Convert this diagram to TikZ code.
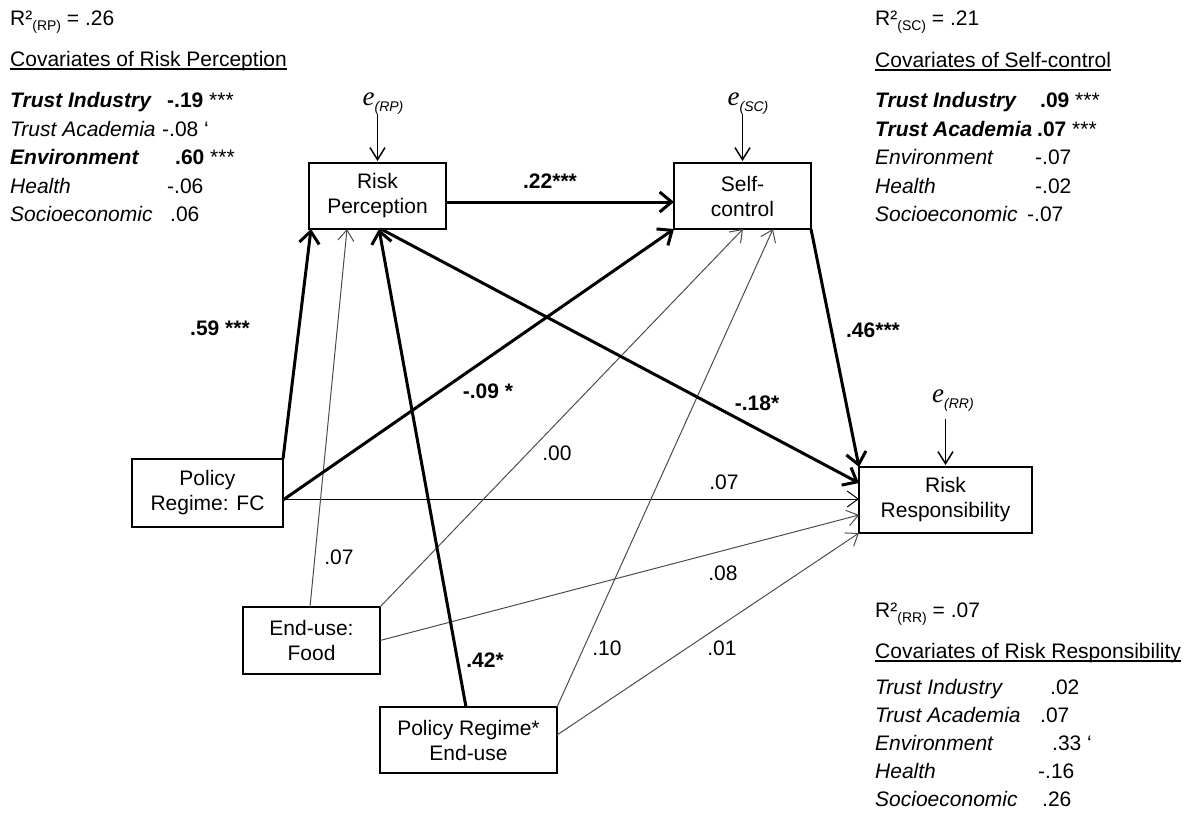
\documentclass[tikz,border=0pt]{standalone}
\usepackage{fontspec}
\setmainfont{Liberation Sans}
\newfontfamily\eserif{Liberation Serif}
\usetikzlibrary{arrows.meta,calc}
\newcommand\msz{\fontsize{21}{25}\selectfont}
\newcommand\ssz{\fontsize{14}{14}\selectfont}
\newcommand\rsq[1]{R²\raisebox{-5pt}{\ssz(#1)} = }
\newcommand\erl[1]{{\eserif\itshape\fontsize{27}{27}\selectfont e}\raisebox{-6pt}{\ssz\itshape(#1)}}
\begin{document}
\begin{tikzpicture}[x=1pt,y=-1pt,
  box/.style={draw, line width=2.4pt, inner sep=0pt, outer sep=0pt, align=center, font=\msz},
  thickarr/.style={line width=3pt, -{Straight Barb[length=12pt,width=20pt]}},
  thinarr/.style={line width=1pt, black!70, -{Straight Barb[length=11pt,width=16pt]}},
  hthinarr/.style={line width=1pt, black, -{Straight Barb[length=11pt,width=16pt]}},
  earr/.style={line width=1.5pt, -{Straight Barb[length=12pt,width=15pt]}},
  lbl/.style={font=\msz, inner sep=0pt},
  blbl/.style={font=\msz\bfseries, inner sep=0pt},
  txt/.style={font=\msz, inner sep=0pt, anchor=base west},
  elbl/.style={inner sep=0pt, anchor=base}
]
\useasboundingbox (0,0) rectangle (1195,825);

% boxes
\node[box, minimum width=137pt, minimum height=66pt] (RP) at (377.5,196) {Risk\\Perception};
\node[box, minimum width=137pt, minimum height=66pt] (SC) at (742.5,196) {Self-\\control};
\node[box, minimum width=173pt, minimum height=66pt] (RR) at (945.5,500) {Risk\\Responsibility};
\node[box, minimum width=151pt, minimum height=68pt] (FC) at (207.5,493) {Policy\\Regime: FC};
\node[box, minimum width=137pt, minimum height=67pt] (Food) at (311.5,640.5) {End-use:\\Food};
\node[box, minimum width=177pt, minimum height=66pt] (PRE) at (468.5,740) {Policy Regime*\\End-use};

% error terms
\node[elbl] (eRP) at (383,105) {\erl{RP}};
\node[elbl] (eSC) at (748,105) {\erl{SC}};
\node[elbl] (eRR) at (953,402) {\erl{RR}};
\draw[earr, shorten >=2pt] (eRP.south -| RP.north) -- (RP.north);
\draw[earr, shorten >=2pt] (eSC.south -| SC.north) -- (SC.north);
\draw[earr, shorten >=2pt] ($(eRR.south -| RR.north)+(0,8)$) -- (RR.north);

% thin paths
\draw[hthinarr] ($(FC.east)+(0,6)$) -- ($(RR.west)+(0,-1)$);
\draw[thinarr] ($(Food.north)+(-1.5,0)$) -- ($(RP.south)+(-30.5,0)$);
\draw[thinarr] (Food.north east) -- ($(SC.south)+(0.5,0)$);
\draw[thinarr] (Food.east) -- ($(RR.west)+(0,15)$);
\draw[thinarr] (PRE.north east) -- ($(SC.south)+(30.5,0)$);
\draw[thinarr] ($(PRE.east)+(0,-5)$) -- (RR.south west);

% thick paths
\draw[thickarr] (FC.north east) -- ($(RP.south west)+(2,0)$);
\draw[thickarr] ($(FC.east)+(0,7)$) -- (SC.south west);
\draw[thickarr] ($(PRE.north)+(-2.5,0)$) -- ($(RP.south)+(1.5,0)$);
\draw[thickarr] ($(RP.south)+(3.5,0)$) -- ($(RR.west)+(0,-17)$);
\draw[thickarr] ($(RP.east)+(0,6)$) -- ($(SC.west)+(0,6)$);
\draw[thickarr] (SC.south east) -- (RR.north west);

% path coefficients
\node[blbl] (c1) at (550,181) {.22***};
\node[blbl] (c2) at (220,328) {.59 ***};
\node[blbl] (c3) at (488,391) {-.09 *};
\node[blbl] (c4) at (873,330) {.46***};
\node[blbl] (c5) at (757,403) {-.18*};
\node[lbl] (c6) at (724,482) {.07};
\node[lbl] (c7) at (557,453) {.00};
\node[lbl] (c8) at (339,557) {.07};
\node[lbl] (c9) at (723,573) {.08};
\node[blbl] (c10) at (485,660) {.42*};
\node[lbl] (c11) at (607,648) {.10};
\node[lbl] (c12) at (722,648) {.01};

% covariates of risk perception
\node[txt] (rpR) at (10,25) {\rsq{RP}.26};
\node[txt] (rpH) at (10,66) {Covariates of Risk Perception};
\draw[line width=1.2pt] ($(rpH.base west)+(0,3)$) -- ($(rpH.base east)+(0,3)$);
\node[txt] (rpL1) at (10,107) {\bfseries\itshape Trust Industry};
\node[txt] (rpV1) at (167,107) {\bfseries -.19 \mdseries***};
\node[txt] (rpL2) at (10,136) {\itshape Trust Academia};
\node[txt] (rpV2) at (162,136) {-.08 ‘};
\node[txt] (rpL3) at (10,164) {\bfseries\itshape Environment};
\node[txt] (rpV3) at (175,164) {\bfseries .60 \mdseries***};
\node[txt] (rpL4) at (10,193) {\itshape Health};
\node[txt] (rpV4) at (167,193) {-.06};
\node[txt] (rpL5) at (10,221) {\itshape Socioeconomic};
\node[txt] (rpV5) at (170,221) {.06};

% covariates of self-control
\node[txt] (scR) at (875,25) {\rsq{SC}.21};
\node[txt] (scH) at (875,67) {Covariates of Self-control};
\draw[line width=1.2pt] ($(scH.base west)+(0,3)$) -- ($(scH.base east)+(0,3)$);
\node[txt] (scL1) at (875,107) {\bfseries\itshape Trust Industry};
\node[txt] (scV1) at (1040,107) {\bfseries .09 \mdseries***};
\node[txt] (scL2) at (875,136) {\bfseries\itshape Trust Academia};
\node[txt] (scV2) at (1037,136) {\bfseries .07 \mdseries***};
\node[txt] (scL3) at (875,164) {\itshape Environment};
\node[txt] (scV3) at (1035,164) {-.07};
\node[txt] (scL4) at (875,193) {\itshape Health};
\node[txt] (scV4) at (1035,193) {-.02};
\node[txt] (scL5) at (875,221) {\itshape Socioeconomic};
\node[txt] (scV5) at (1027,221) {-.07};

% covariates of risk responsibility
\node[txt] (rrR) at (875,617) {\rsq{RR}.07};
\node[txt] (rrH) at (875,658) {Covariates of Risk Responsibility};
\draw[line width=1.2pt] ($(rrH.base west)+(0,3)$) -- ($(rrH.base east)+(0,3)$);
\node[txt] (rrL1) at (875,694) {\itshape Trust Industry};
\node[txt] (rrV1) at (1050,694) {.02};
\node[txt] (rrL2) at (875,722) {\itshape Trust Academia};
\node[txt] (rrV2) at (1040,722) {.07};
\node[txt] (rrL3) at (875,750) {\itshape Environment};
\node[txt] (rrV3) at (1052,750) {.33 ‘};
\node[txt] (rrL4) at (875,778) {\itshape Health};
\node[txt] (rrV4) at (1038,778) {-.16};
\node[txt] (rrL5) at (875,806) {\itshape Socioeconomic};
\node[txt] (rrV5) at (1042,806) {.26};
\end{tikzpicture}
\end{document}
